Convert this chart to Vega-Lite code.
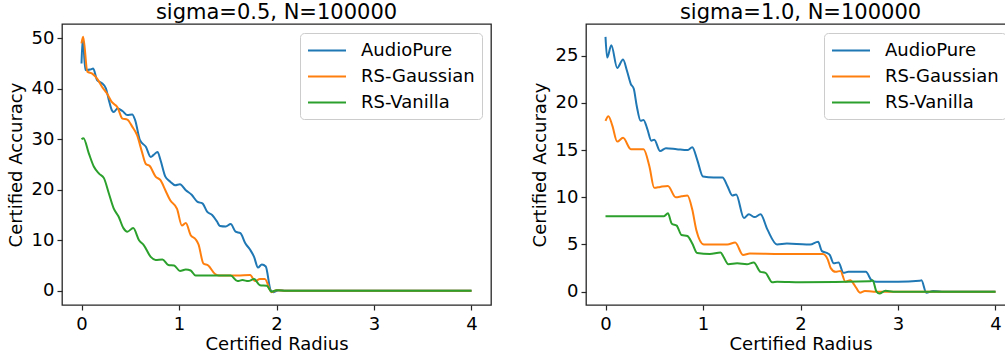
{
"$schema": "https://vega.github.io/schema/vega-lite/v6.json",
"padding": {"left": 6, "top": 1, "right": 0, "bottom": 0},
"background": "white",
"config": {
  "font": "DejaVu Sans",
  "view": {"stroke": "#262626", "strokeWidth": 1.3},
  "axis": {"domain": false, "grid": false, "tickSize": 5, "tickColor": "#262626", "tickWidth": 1.2, "labelFontSize": 18, "labelColor": "#000", "labelPadding": 3, "titleFontSize": 18, "titleFontWeight": "normal", "titleColor": "#000", "titlePadding": 6, "labelFont": "DejaVu Sans", "titleFont": "DejaVu Sans"},
  "axisX": {"labelPadding": 5, "titlePadding": 2},
  "title": {"fontSize": 21, "fontWeight": "normal", "font": "DejaVu Sans", "color": "#000", "offset": 1},
  "legend": {"orient": "top-right", "offset": 9, "title": null, "strokeColor": "#cccccc", "fillColor": "white", "cornerRadius": 4, "padding": 7, "labelFontSize": 18, "labelFont": "DejaVu Sans", "labelColor": "#000", "symbolType": "M-1,0H3", "symbolSize": 361, "symbolStrokeWidth": 2, "labelOffset": 33, "rowPadding": 6}
},
"datasets": {"d": [
{"p":"a","m":"AudioPure","r":0,"a":45},{"p":"a","m":"AudioPure","r":0.013,"a":50},{"p":"a","m":"AudioPure","r":0.04,"a":43.7},{"p":"a","m":"AudioPure","r":0.09,"a":43.8},{"p":"a","m":"AudioPure","r":0.12,"a":44.0},{"p":"a","m":"AudioPure","r":0.16,"a":41.7},{"p":"a","m":"AudioPure","r":0.21,"a":41.1},{"p":"a","m":"AudioPure","r":0.25,"a":40.1},{"p":"a","m":"AudioPure","r":0.28,"a":37.8},{"p":"a","m":"AudioPure","r":0.31,"a":35.8},{"p":"a","m":"AudioPure","r":0.33,"a":35.4},{"p":"a","m":"AudioPure","r":0.37,"a":36.1},{"p":"a","m":"AudioPure","r":0.42,"a":35.6},{"p":"a","m":"AudioPure","r":0.47,"a":34.8},{"p":"a","m":"AudioPure","r":0.52,"a":34.9},{"p":"a","m":"AudioPure","r":0.55,"a":33.8},{"p":"a","m":"AudioPure","r":0.60,"a":29.8},{"p":"a","m":"AudioPure","r":0.66,"a":28.5},{"p":"a","m":"AudioPure","r":0.71,"a":26.5},{"p":"a","m":"AudioPure","r":0.74,"a":26.9},{"p":"a","m":"AudioPure","r":0.78,"a":27.5},{"p":"a","m":"AudioPure","r":0.81,"a":25.9},{"p":"a","m":"AudioPure","r":0.86,"a":22.6},{"p":"a","m":"AudioPure","r":0.91,"a":21.6},{"p":"a","m":"AudioPure","r":0.96,"a":20.9},{"p":"a","m":"AudioPure","r":1.01,"a":21.1},{"p":"a","m":"AudioPure","r":1.07,"a":19.9},{"p":"a","m":"AudioPure","r":1.13,"a":19.0},{"p":"a","m":"AudioPure","r":1.19,"a":17.6},{"p":"a","m":"AudioPure","r":1.24,"a":17.3},{"p":"a","m":"AudioPure","r":1.29,"a":15.6},{"p":"a","m":"AudioPure","r":1.34,"a":15.0},{"p":"a","m":"AudioPure","r":1.39,"a":13.7},{"p":"a","m":"AudioPure","r":1.42,"a":12.8},{"p":"a","m":"AudioPure","r":1.48,"a":12.7},{"p":"a","m":"AudioPure","r":1.53,"a":13.2},{"p":"a","m":"AudioPure","r":1.58,"a":11.7},{"p":"a","m":"AudioPure","r":1.63,"a":11.4},{"p":"a","m":"AudioPure","r":1.68,"a":9.4},{"p":"a","m":"AudioPure","r":1.73,"a":8.1},{"p":"a","m":"AudioPure","r":1.77,"a":6.7},{"p":"a","m":"AudioPure","r":1.81,"a":4.6},{"p":"a","m":"AudioPure","r":1.85,"a":5.2},{"p":"a","m":"AudioPure","r":1.89,"a":4.8},{"p":"a","m":"AudioPure","r":1.94,"a":0.1},{"p":"a","m":"AudioPure","r":1.97,"a":-0.3},{"p":"a","m":"AudioPure","r":2.02,"a":0.1},{"p":"a","m":"AudioPure","r":2.1,"a":0},{"p":"a","m":"AudioPure","r":4,"a":0},
{"p":"a","m":"RS-Gaussian","r":0,"a":49},{"p":"a","m":"RS-Gaussian","r":0.017,"a":50.3},{"p":"a","m":"RS-Gaussian","r":0.06,"a":43.4},{"p":"a","m":"RS-Gaussian","r":0.11,"a":43.0},{"p":"a","m":"RS-Gaussian","r":0.16,"a":42.0},{"p":"a","m":"RS-Gaussian","r":0.21,"a":40.4},{"p":"a","m":"RS-Gaussian","r":0.26,"a":39.1},{"p":"a","m":"RS-Gaussian","r":0.31,"a":37.4},{"p":"a","m":"RS-Gaussian","r":0.37,"a":36.3},{"p":"a","m":"RS-Gaussian","r":0.42,"a":34.1},{"p":"a","m":"RS-Gaussian","r":0.47,"a":33.9},{"p":"a","m":"RS-Gaussian","r":0.52,"a":32.5},{"p":"a","m":"RS-Gaussian","r":0.57,"a":30.8},{"p":"a","m":"RS-Gaussian","r":0.62,"a":27.5},{"p":"a","m":"RS-Gaussian","r":0.66,"a":25.1},{"p":"a","m":"RS-Gaussian","r":0.70,"a":24.7},{"p":"a","m":"RS-Gaussian","r":0.76,"a":22.6},{"p":"a","m":"RS-Gaussian","r":0.81,"a":21.9},{"p":"a","m":"RS-Gaussian","r":0.86,"a":19.9},{"p":"a","m":"RS-Gaussian","r":0.91,"a":17.9},{"p":"a","m":"RS-Gaussian","r":0.98,"a":16.2},{"p":"a","m":"RS-Gaussian","r":1.03,"a":12.9},{"p":"a","m":"RS-Gaussian","r":1.07,"a":13.4},{"p":"a","m":"RS-Gaussian","r":1.12,"a":11.0},{"p":"a","m":"RS-Gaussian","r":1.17,"a":10.2},{"p":"a","m":"RS-Gaussian","r":1.20,"a":9.2},{"p":"a","m":"RS-Gaussian","r":1.25,"a":5.4},{"p":"a","m":"RS-Gaussian","r":1.30,"a":5.0},{"p":"a","m":"RS-Gaussian","r":1.37,"a":3.3},{"p":"a","m":"RS-Gaussian","r":1.41,"a":3.0},{"p":"a","m":"RS-Gaussian","r":1.6,"a":3.0},{"p":"a","m":"RS-Gaussian","r":1.73,"a":3.1},{"p":"a","m":"RS-Gaussian","r":1.78,"a":1.9},{"p":"a","m":"RS-Gaussian","r":1.83,"a":2.3},{"p":"a","m":"RS-Gaussian","r":1.88,"a":2.3},{"p":"a","m":"RS-Gaussian","r":1.95,"a":-0.3},{"p":"a","m":"RS-Gaussian","r":2.0,"a":0.1},{"p":"a","m":"RS-Gaussian","r":2.1,"a":0},{"p":"a","m":"RS-Gaussian","r":4,"a":0},
{"p":"a","m":"RS-Vanilla","r":0,"a":30.0},{"p":"a","m":"RS-Vanilla","r":0.02,"a":30.2},{"p":"a","m":"RS-Vanilla","r":0.075,"a":27.2},{"p":"a","m":"RS-Vanilla","r":0.126,"a":24.6},{"p":"a","m":"RS-Vanilla","r":0.18,"a":23.2},{"p":"a","m":"RS-Vanilla","r":0.23,"a":22.3},{"p":"a","m":"RS-Vanilla","r":0.28,"a":19.3},{"p":"a","m":"RS-Vanilla","r":0.33,"a":16.3},{"p":"a","m":"RS-Vanilla","r":0.38,"a":14.7},{"p":"a","m":"RS-Vanilla","r":0.43,"a":12.4},{"p":"a","m":"RS-Vanilla","r":0.47,"a":11.7},{"p":"a","m":"RS-Vanilla","r":0.53,"a":12.4},{"p":"a","m":"RS-Vanilla","r":0.59,"a":10.0},{"p":"a","m":"RS-Vanilla","r":0.64,"a":9.0},{"p":"a","m":"RS-Vanilla","r":0.71,"a":6.7},{"p":"a","m":"RS-Vanilla","r":0.76,"a":6.1},{"p":"a","m":"RS-Vanilla","r":0.83,"a":6.2},{"p":"a","m":"RS-Vanilla","r":0.89,"a":5.1},{"p":"a","m":"RS-Vanilla","r":0.95,"a":5.0},{"p":"a","m":"RS-Vanilla","r":1.01,"a":3.9},{"p":"a","m":"RS-Vanilla","r":1.07,"a":4.2},{"p":"a","m":"RS-Vanilla","r":1.12,"a":4.0},{"p":"a","m":"RS-Vanilla","r":1.17,"a":3.0},{"p":"a","m":"RS-Vanilla","r":1.53,"a":3.0},{"p":"a","m":"RS-Vanilla","r":1.60,"a":1.9},{"p":"a","m":"RS-Vanilla","r":1.65,"a":2.1},{"p":"a","m":"RS-Vanilla","r":1.71,"a":1.9},{"p":"a","m":"RS-Vanilla","r":1.77,"a":2.3},{"p":"a","m":"RS-Vanilla","r":1.83,"a":1.1},{"p":"a","m":"RS-Vanilla","r":1.90,"a":1.0},{"p":"a","m":"RS-Vanilla","r":1.95,"a":-0.2},{"p":"a","m":"RS-Vanilla","r":2.0,"a":0.1},{"p":"a","m":"RS-Vanilla","r":2.1,"a":0},{"p":"a","m":"RS-Vanilla","r":4,"a":0},
{"p":"b","m":"AudioPure","r":0,"a":27.0},{"p":"b","m":"AudioPure","r":0.017,"a":24.8},{"p":"b","m":"AudioPure","r":0.06,"a":26.1},{"p":"b","m":"AudioPure","r":0.12,"a":23.7},{"p":"b","m":"AudioPure","r":0.18,"a":24.6},{"p":"b","m":"AudioPure","r":0.22,"a":23.4},{"p":"b","m":"AudioPure","r":0.26,"a":22.0},{"p":"b","m":"AudioPure","r":0.29,"a":21.5},{"p":"b","m":"AudioPure","r":0.32,"a":19.7},{"p":"b","m":"AudioPure","r":0.36,"a":18.1},{"p":"b","m":"AudioPure","r":0.39,"a":18.2},{"p":"b","m":"AudioPure","r":0.43,"a":17.2},{"p":"b","m":"AudioPure","r":0.47,"a":16.0},{"p":"b","m":"AudioPure","r":0.50,"a":16.1},{"p":"b","m":"AudioPure","r":0.56,"a":14.9},{"p":"b","m":"AudioPure","r":0.62,"a":15.2},{"p":"b","m":"AudioPure","r":0.73,"a":15.1},{"p":"b","m":"AudioPure","r":0.84,"a":15.0},{"p":"b","m":"AudioPure","r":0.89,"a":15.3},{"p":"b","m":"AudioPure","r":0.94,"a":14.0},{"p":"b","m":"AudioPure","r":1.00,"a":12.2},{"p":"b","m":"AudioPure","r":1.11,"a":12.1},{"p":"b","m":"AudioPure","r":1.20,"a":12.1},{"p":"b","m":"AudioPure","r":1.25,"a":11.2},{"p":"b","m":"AudioPure","r":1.30,"a":10.2},{"p":"b","m":"AudioPure","r":1.34,"a":10.3},{"p":"b","m":"AudioPure","r":1.42,"a":7.8},{"p":"b","m":"AudioPure","r":1.47,"a":8.2},{"p":"b","m":"AudioPure","r":1.53,"a":7.9},{"p":"b","m":"AudioPure","r":1.59,"a":8.2},{"p":"b","m":"AudioPure","r":1.66,"a":6.6},{"p":"b","m":"AudioPure","r":1.76,"a":5.0},{"p":"b","m":"AudioPure","r":1.86,"a":5.1},{"p":"b","m":"AudioPure","r":2.06,"a":5.0},{"p":"b","m":"AudioPure","r":2.10,"a":5.0},{"p":"b","m":"AudioPure","r":2.18,"a":5.3},{"p":"b","m":"AudioPure","r":2.22,"a":4.3},{"p":"b","m":"AudioPure","r":2.27,"a":4.1},{"p":"b","m":"AudioPure","r":2.30,"a":3.9},{"p":"b","m":"AudioPure","r":2.34,"a":3.0},{"p":"b","m":"AudioPure","r":2.39,"a":3.1},{"p":"b","m":"AudioPure","r":2.44,"a":2.0},{"p":"b","m":"AudioPure","r":2.49,"a":2.1},{"p":"b","m":"AudioPure","r":2.67,"a":2.1},{"p":"b","m":"AudioPure","r":2.73,"a":1.2},{"p":"b","m":"AudioPure","r":2.78,"a":1.05},{"p":"b","m":"AudioPure","r":3.0,"a":1.05},{"p":"b","m":"AudioPure","r":3.22,"a":1.15},{"p":"b","m":"AudioPure","r":3.24,"a":1.2},{"p":"b","m":"AudioPure","r":3.29,"a":-0.1},{"p":"b","m":"AudioPure","r":3.36,"a":0.07},{"p":"b","m":"AudioPure","r":3.45,"a":0},{"p":"b","m":"AudioPure","r":4,"a":0},
{"p":"b","m":"RS-Gaussian","r":0,"a":18.1},{"p":"b","m":"RS-Gaussian","r":0.03,"a":18.6},{"p":"b","m":"RS-Gaussian","r":0.07,"a":17.6},{"p":"b","m":"RS-Gaussian","r":0.12,"a":15.9},{"p":"b","m":"RS-Gaussian","r":0.18,"a":16.3},{"p":"b","m":"RS-Gaussian","r":0.26,"a":15.1},{"p":"b","m":"RS-Gaussian","r":0.36,"a":15.1},{"p":"b","m":"RS-Gaussian","r":0.39,"a":15.1},{"p":"b","m":"RS-Gaussian","r":0.45,"a":13.3},{"p":"b","m":"RS-Gaussian","r":0.50,"a":11.0},{"p":"b","m":"RS-Gaussian","r":0.56,"a":11.1},{"p":"b","m":"RS-Gaussian","r":0.64,"a":11.2},{"p":"b","m":"RS-Gaussian","r":0.72,"a":10.0},{"p":"b","m":"RS-Gaussian","r":0.78,"a":10.1},{"p":"b","m":"RS-Gaussian","r":0.84,"a":10.2},{"p":"b","m":"RS-Gaussian","r":0.89,"a":8.7},{"p":"b","m":"RS-Gaussian","r":0.93,"a":6.6},{"p":"b","m":"RS-Gaussian","r":1.01,"a":5.0},{"p":"b","m":"RS-Gaussian","r":1.11,"a":5.0},{"p":"b","m":"RS-Gaussian","r":1.25,"a":5.0},{"p":"b","m":"RS-Gaussian","r":1.33,"a":5.2},{"p":"b","m":"RS-Gaussian","r":1.41,"a":3.9},{"p":"b","m":"RS-Gaussian","r":1.48,"a":4.05},{"p":"b","m":"RS-Gaussian","r":1.8,"a":4.0},{"p":"b","m":"RS-Gaussian","r":2.23,"a":4.0},{"p":"b","m":"RS-Gaussian","r":2.28,"a":3.4},{"p":"b","m":"RS-Gaussian","r":2.31,"a":2.5},{"p":"b","m":"RS-Gaussian","r":2.36,"a":2.1},{"p":"b","m":"RS-Gaussian","r":2.41,"a":2.2},{"p":"b","m":"RS-Gaussian","r":2.46,"a":1.06},{"p":"b","m":"RS-Gaussian","r":2.51,"a":1.2},{"p":"b","m":"RS-Gaussian","r":2.56,"a":0.6},{"p":"b","m":"RS-Gaussian","r":2.61,"a":-0.1},{"p":"b","m":"RS-Gaussian","r":2.66,"a":0.07},{"p":"b","m":"RS-Gaussian","r":2.75,"a":0},{"p":"b","m":"RS-Gaussian","r":4,"a":0},
{"p":"b","m":"RS-Vanilla","r":0,"a":8.0},{"p":"b","m":"RS-Vanilla","r":0.56,"a":8.0},{"p":"b","m":"RS-Vanilla","r":0.60,"a":8.0},{"p":"b","m":"RS-Vanilla","r":0.64,"a":8.3},{"p":"b","m":"RS-Vanilla","r":0.68,"a":7.2},{"p":"b","m":"RS-Vanilla","r":0.73,"a":7.0},{"p":"b","m":"RS-Vanilla","r":0.78,"a":6.0},{"p":"b","m":"RS-Vanilla","r":0.84,"a":5.9},{"p":"b","m":"RS-Vanilla","r":0.89,"a":5.1},{"p":"b","m":"RS-Vanilla","r":0.94,"a":4.1},{"p":"b","m":"RS-Vanilla","r":1.07,"a":4.0},{"p":"b","m":"RS-Vanilla","r":1.18,"a":4.15},{"p":"b","m":"RS-Vanilla","r":1.21,"a":3.7},{"p":"b","m":"RS-Vanilla","r":1.26,"a":2.9},{"p":"b","m":"RS-Vanilla","r":1.35,"a":3.0},{"p":"b","m":"RS-Vanilla","r":1.45,"a":2.9},{"p":"b","m":"RS-Vanilla","r":1.52,"a":3.1},{"p":"b","m":"RS-Vanilla","r":1.59,"a":2.1},{"p":"b","m":"RS-Vanilla","r":1.64,"a":2.0},{"p":"b","m":"RS-Vanilla","r":1.71,"a":1.0},{"p":"b","m":"RS-Vanilla","r":1.76,"a":1.06},{"p":"b","m":"RS-Vanilla","r":2.0,"a":1.0},{"p":"b","m":"RS-Vanilla","r":2.71,"a":1.1},{"p":"b","m":"RS-Vanilla","r":2.74,"a":1.2},{"p":"b","m":"RS-Vanilla","r":2.78,"a":0},{"p":"b","m":"RS-Vanilla","r":2.81,"a":-0.2},{"p":"b","m":"RS-Vanilla","r":2.87,"a":0.1},{"p":"b","m":"RS-Vanilla","r":2.95,"a":0},{"p":"b","m":"RS-Vanilla","r":4,"a":0}
]},
"spacing": 38,
"hconcat": [
{
  "width": 429, "height": 281,
  "title": {"text": "sigma=0.5, N=100000"},
  "data": {"name": "d"},
  "transform": [{"filter": "datum.p == 'a'"}],
  "mark": {"type": "line", "interpolate": "monotone", "strokeWidth": 2},
  "encoding": {
    "x": {"field": "r", "type": "quantitative", "scale": {"domain": [-0.2, 4.2], "nice": false, "zero": false}, "axis": {"values": [0,1,2,3,4], "format": "d", "title": "Certified Radius"}},
    "y": {"field": "a", "type": "quantitative", "scale": {"domain": [-2.83, 52.83], "nice": false, "zero": false}, "axis": {"values": [0,10,20,30,40,50], "format": "d", "title": "Certified Accuracy"}},
    "color": {"field": "m", "type": "nominal", "scale": {"domain": ["AudioPure","RS-Gaussian","RS-Vanilla"], "range": ["#1f77b4","#ff7f0e","#2ca02c"]}}
  }
},
{
  "width": 429, "height": 281,
  "title": {"text": "sigma=1.0, N=100000"},
  "data": {"name": "d"},
  "transform": [{"filter": "datum.p == 'b'"}],
  "mark": {"type": "line", "interpolate": "monotone", "strokeWidth": 2},
  "encoding": {
    "x": {"field": "r", "type": "quantitative", "scale": {"domain": [-0.2, 4.2], "nice": false, "zero": false}, "axis": {"values": [0,1,2,3,4], "format": "d", "title": "Certified Radius"}},
    "y": {"field": "a", "type": "quantitative", "scale": {"domain": [-1.41, 28.36], "nice": false, "zero": false}, "axis": {"values": [0,5,10,15,20,25], "format": "d", "title": "Certified Accuracy"}},
    "color": {"field": "m", "type": "nominal", "scale": {"domain": ["AudioPure","RS-Gaussian","RS-Vanilla"], "range": ["#1f77b4","#ff7f0e","#2ca02c"]}}
  }
}
],
"resolve": {"legend": {"color": "independent"}, "scale": {"color": "independent"}}
}
